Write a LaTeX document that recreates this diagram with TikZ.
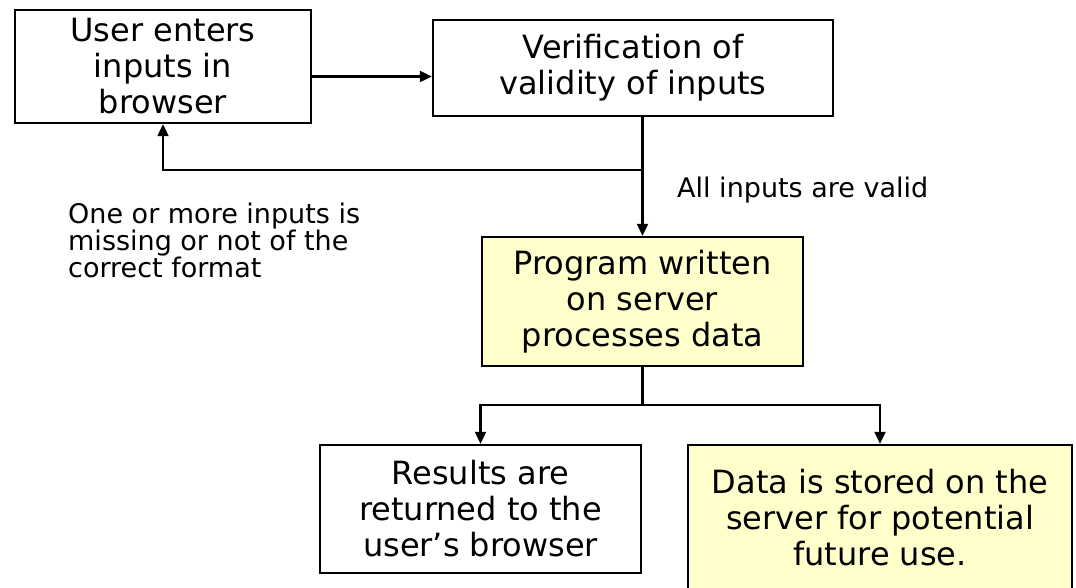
\documentclass[tikz,border=0pt]{standalone}
\usepackage{fontspec}
\setmainfont{DejaVu Sans}
\usetikzlibrary{arrows.meta}
\definecolor{paleyellow}{RGB}{255,255,204}

\begin{document}
\begin{tikzpicture}[x=1pt, y=-1pt,
  box/.style={draw, line width=2.4pt, align=center, inner sep=0pt,
    font=\fontsize{32}{36}\selectfont},
  databox/.style={box, fill=paleyellow},
  flow/.style={line width=2.2pt, -{Triangle[length=12pt,width=11pt]}},
  note/.style={align=left, inner sep=0pt, font=\fontsize{27}{27}\selectfont}]

% page in pixel units, y running down
\useasboundingbox[fill=white] (0,0) rectangle (1076,588);

% ---- steps ----
\node[box, minimum width=296pt, minimum height=113pt] (user) at (163,66.5)
  {User enters\\inputs in\\browser};
\node[box, minimum width=400pt, minimum height=96pt] (verify) at (633,68)
  {Verification of\\validity of inputs};
\node[databox, minimum width=321pt, minimum height=129pt] (process) at (642.5,301.5)
  {Program written\\on server\\processes data};
\node[box, minimum width=321pt, minimum height=128pt] (results) at (480.5,509)
  {Results are\\returned to the\\user’s browser};
\node[databox, minimum width=384pt, minimum height=146pt] (store) at (880,518)
  {Data is stored on the\\server for potential\\future use.};

% ---- outcome labels ----
\node[note, anchor=west] (invalid) at (68,240)
  {One or more inputs is\\missing or not of the\\correct format};
\node[note, anchor=west] (valid) at (677,190) {All inputs are valid};

% ---- connectors ----
\coordinate (branch) at (642.5,170);
\coordinate (fork) at (642.5,405);
\draw[flow] ([yshift=-10pt]user.east) -- ([yshift=-10pt]user.east -| verify.west);
\draw[flow] (verify.south -| process.north) -- (process.north);
\draw[flow] (branch) -| (user.south);
\draw[line width=2.2pt] (process.south) -- (fork);
\draw[flow] (fork) -| (results.north);
\draw[flow] (fork) -| (store.north);

\end{tikzpicture}
\end{document}
